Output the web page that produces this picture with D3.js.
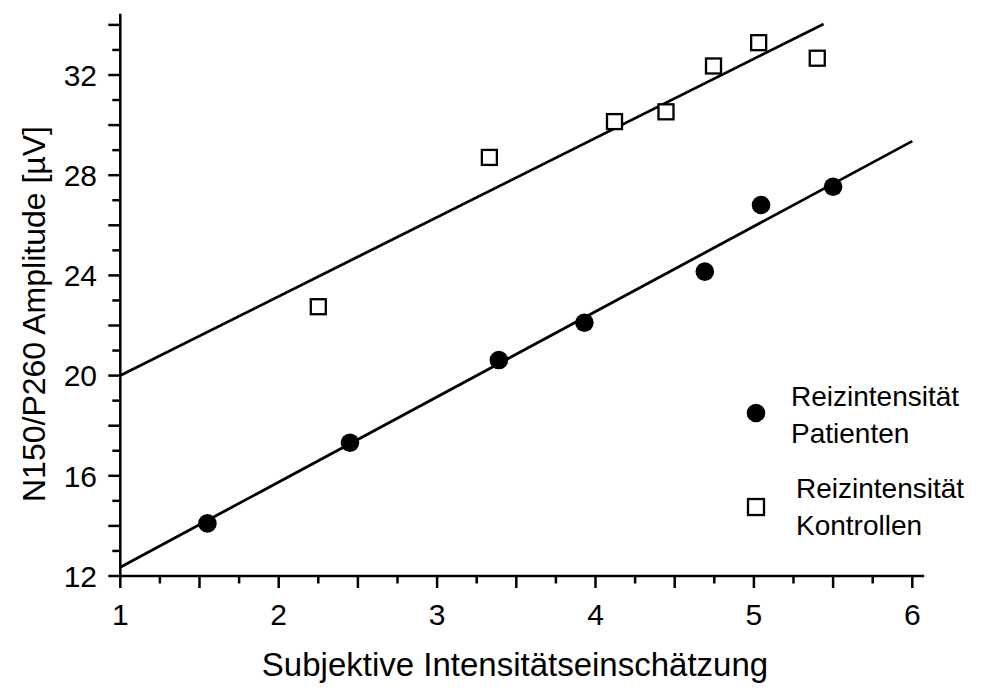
<!DOCTYPE html>
<html>
<head>
<meta charset="utf-8">
<script src="https://cdn.jsdelivr.net/npm/d3@7"></script>
<style>
  html, body { margin: 0; padding: 0; background: #fff; }
  svg text { font-family: "Liberation Sans", Arial, Helvetica, sans-serif; fill: #000; }
</style>
</head>
<body>
<svg id="chart" width="992" height="691"></svg>
<script>
// Patients: subjective rating vs. N150/P260 amplitude
const patientX = [1.55, 2.45, 3.39, 3.93, 4.69, 5.045, 5.50];
const patientY = [14.1, 17.32, 20.62, 22.11, 24.15, 26.81, 27.54];

// Controls
const controlX = [2.25, 3.33, 4.12, 4.445, 4.745, 5.03, 5.40];
const controlY = [22.75, 28.71, 30.14, 30.53, 32.36, 33.29, 32.67];

// Regression lines (endpoints)
const patientFitX = [1, 6.0];
const patientFitY = [12.35, 29.36];
const controlFitX = [1, 5.44];
const controlFitY = [20.0, 34.04];

// Axis ticks
const xTickLabels = [1, 2, 3, 4, 5, 6];
const yTickLabels = [12, 16, 20, 24, 28, 32];

const legendLabels = [["Reizintensität", "Patienten"], ["Reizintensität", "Kontrollen"]];

const svg = d3.select("#chart");

const x = d3.scaleLinear().domain([1, 6]).range([120.3, 912.3]);
const y = d3.scaleLinear().domain([12, 32]).range([576, 75]);

const axisW = 2.5;
const g = svg.append("g");

// axis lines
g.append("line")
  .attr("x1", x(1)).attr("x2", x(6.075))
  .attr("y1", y(12)).attr("y2", y(12))
  .attr("stroke", "#000").attr("stroke-width", axisW);
g.append("line")
  .attr("x1", x(1)).attr("x2", x(1))
  .attr("y1", y(12) + axisW / 2).attr("y2", y(34.45))
  .attr("stroke", "#000").attr("stroke-width", axisW);

// x ticks: long every 0.5, short every 0.25
const xMinor = d3.range(1, 6.001, 0.25);
g.selectAll(".xt").data(xMinor).join("line")
  .attr("x1", d => x(d)).attr("x2", d => x(d))
  .attr("y1", y(12))
  .attr("y2", d => y(12) + (Math.abs(d * 2 - Math.round(d * 2)) < 1e-6 ? 12 : 7.5))
  .attr("stroke", "#000").attr("stroke-width", axisW);

// y ticks: long every 2, short every 1
const yMinor = d3.range(12, 34.001, 1);
g.selectAll(".yt").data(yMinor).join("line")
  .attr("y1", d => y(d)).attr("y2", d => y(d))
  .attr("x1", x(1))
  .attr("x2", d => x(1) - (d % 2 === 0 ? 12 : 8))
  .attr("stroke", "#000").attr("stroke-width", axisW);

// tick labels
g.selectAll(".xl").data(xTickLabels).join("text")
  .attr("x", d => x(d)).attr("y", 625)
  .attr("text-anchor", "middle")
  .attr("font-size", 30)
  .text(d => d);

g.selectAll(".yl").data(yTickLabels).join("text")
  .attr("x", 97).attr("y", d => y(d))
  .attr("dy", "0.36em")
  .attr("text-anchor", "end")
  .attr("font-size", 30)
  .text(d => d);

// axis titles
svg.append("text")
  .attr("x", 515).attr("y", 676)
  .attr("text-anchor", "middle")
  .attr("font-size", 33)
  .text("Subjektive Intensitätseinschätzung");

svg.append("text")
  .attr("transform", "translate(45,314) rotate(-90)")
  .attr("text-anchor", "middle")
  .attr("font-size", 32)
  .text("N150/P260 Amplitude [µV]");

// regression lines
const line = d3.line().x(d => x(d[0])).y(d => y(d[1]));
svg.append("path")
  .attr("d", line(d3.zip(controlFitX, controlFitY)))
  .attr("fill", "none").attr("stroke", "#000").attr("stroke-width", 2.8);
svg.append("path")
  .attr("d", line(d3.zip(patientFitX, patientFitY)))
  .attr("fill", "none").attr("stroke", "#000").attr("stroke-width", 2.8);

// control squares
const sq = 15;
svg.selectAll(".ctrl").data(d3.zip(controlX, controlY)).join("rect")
  .attr("x", d => x(d[0]) - sq / 2).attr("y", d => y(d[1]) - sq / 2)
  .attr("width", sq).attr("height", sq)
  .attr("fill", "#fff").attr("stroke", "#000").attr("stroke-width", 2.3);

// patient dots
svg.selectAll(".pat").data(d3.zip(patientX, patientY)).join("circle")
  .attr("cx", d => x(d[0])).attr("cy", d => y(d[1]))
  .attr("r", 9.3).attr("fill", "#000");

// legend
const leg = svg.append("g");
leg.append("circle").attr("cx", 756).attr("cy", 413).attr("r", 9.3).attr("fill", "#000");
leg.append("rect").attr("x", 756 - 8).attr("y", 507 - 8).attr("width", 16).attr("height", 16)
  .attr("fill", "#fff").attr("stroke", "#000").attr("stroke-width", 2.3);

const legPos = [{ x: 791, y: 406 }, { x: 796, y: 498 }];
legendLabels.forEach((lines, i) => {
  const t = leg.append("text").attr("x", legPos[i].x).attr("y", legPos[i].y).attr("font-size", 28);
  lines.forEach((s, j) => {
    t.append("tspan").attr("x", legPos[i].x).attr("y", legPos[i].y + j * 36.7).text(s);
  });
});
</script>
</body>
</html>
